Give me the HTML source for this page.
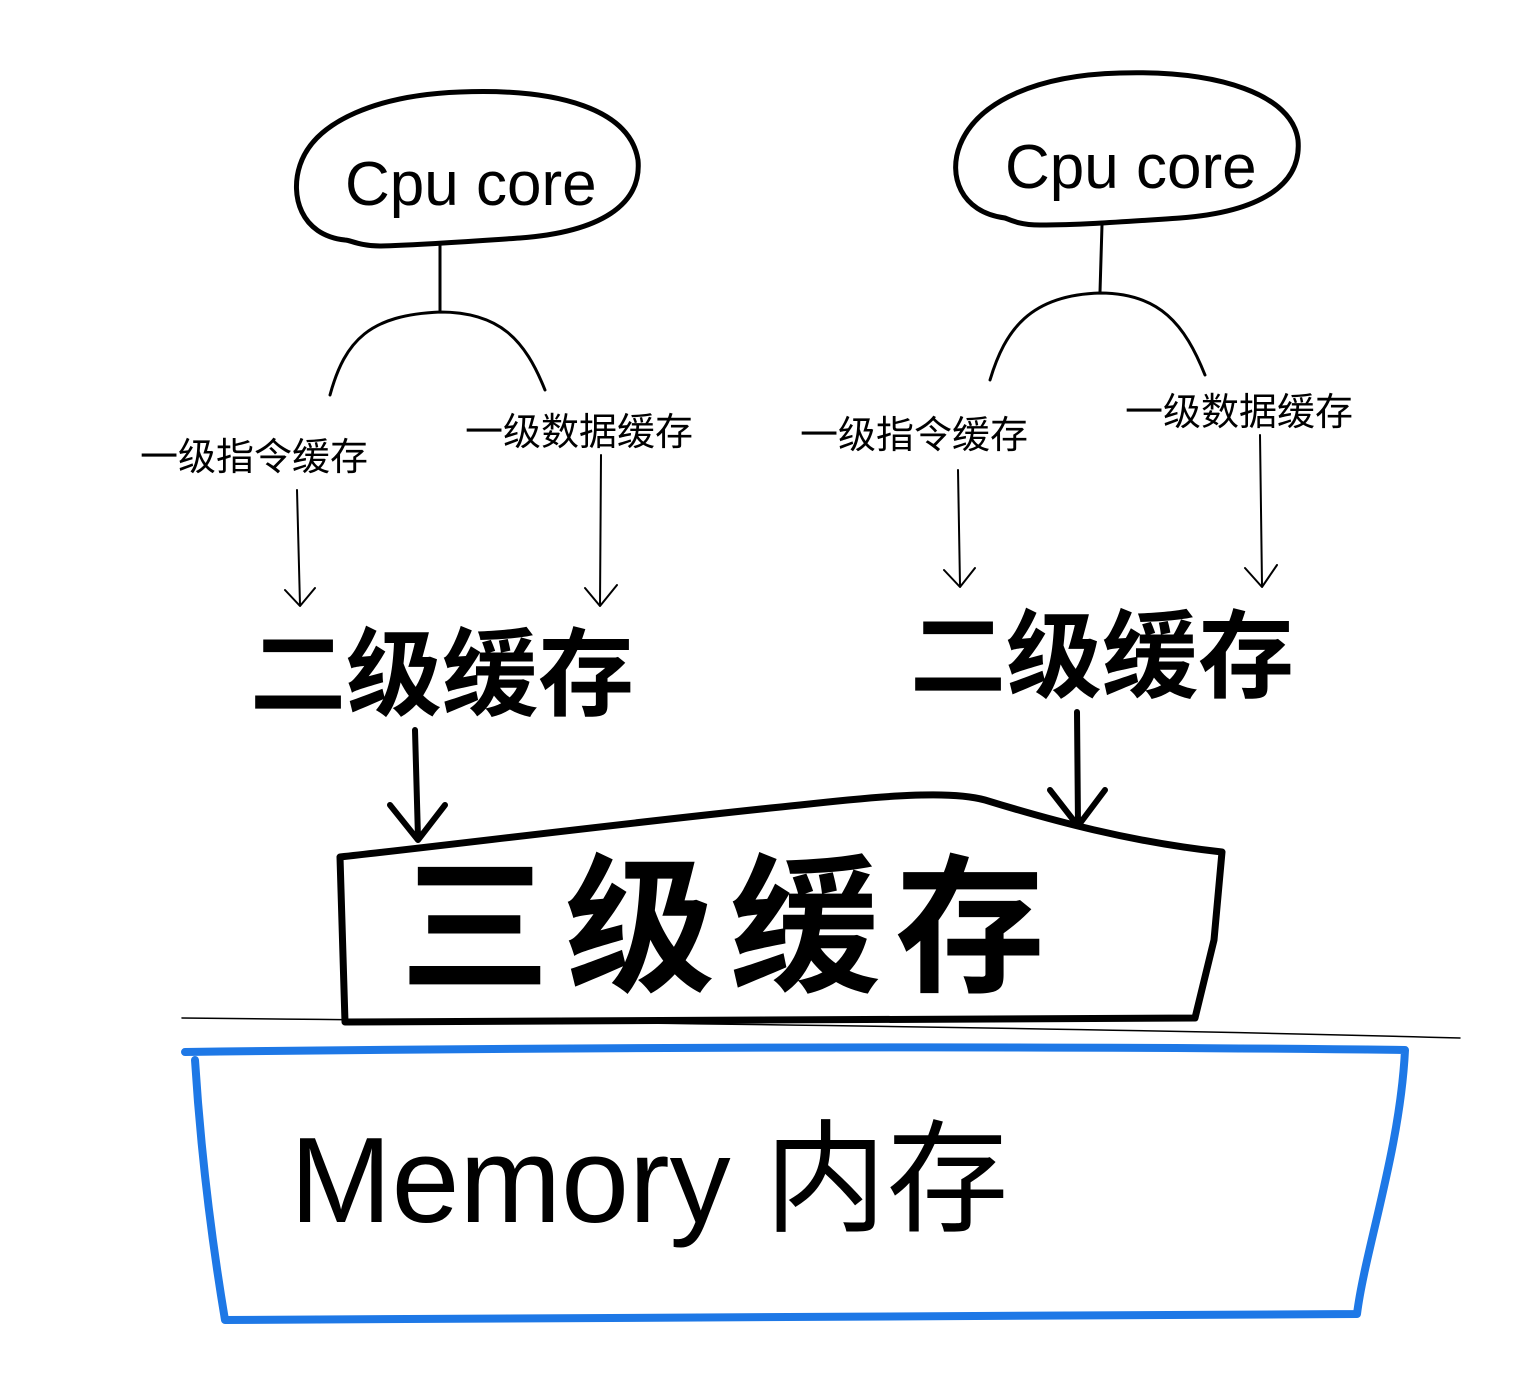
<!DOCTYPE html>
<html><head><meta charset="utf-8"><style>
html,body{margin:0;padding:0;background:#fff;}
svg{display:block}
text{font-family:"Liberation Sans","Noto Sans CJK SC",sans-serif;fill:#000}
</style></head><body>
<svg width="1536" height="1392" viewBox="0 0 1536 1392" xmlns="http://www.w3.org/2000/svg">
<g fill="none" stroke="#000" stroke-linecap="round" stroke-linejoin="round">
<path d="M345,240 C300,235 290,195 300,165 C315,120 380,95 460,92 C560,88 630,110 638,160 C642,205 600,232 520,238 C460,242 420,245 380,246 C360,246 350,240 345,240 Z" stroke-width="5"/>
<path d="M1005,218 C960,212 948,175 960,145 C978,100 1040,75 1120,73 C1220,70 1292,95 1298,140 C1302,185 1260,212 1180,218 C1120,222 1080,225 1040,225 C1020,225 1010,220 1005,218 Z" stroke-width="5"/>
<path d="M440,245 L440,310" stroke-width="3"/>
<path d="M330,395 C345,340 370,315 440,312 C500,312 525,340 545,390" stroke-width="3"/>
<path d="M1102,225 L1100,292" stroke-width="3"/>
<path d="M990,380 C1005,330 1030,295 1100,293 C1160,293 1185,325 1205,375" stroke-width="3"/>
<path d="M297,490 L300,605 M285,590 L300,606 L315,588" stroke-width="2"/>
<path d="M601,455 L600,605 M585,588 L600,606 L617,585" stroke-width="2"/>
<path d="M958,470 L960,585 M944,570 L960,587 L975,568" stroke-width="2"/>
<path d="M1260,435 L1262,585 M1245,568 L1262,587 L1277,565" stroke-width="2"/>
<path d="M415,730 L418,838 M390,805 L418,840 L445,805" stroke-width="6"/>
<path d="M1077,712 L1078,825 M1050,790 L1078,826 L1105,790" stroke-width="6"/>
<path d="M340,857 C450,845 650,820 800,805 C880,796 950,790 985,800 C1050,820 1130,842 1222,852 L1214,940 L1195,1018 L345,1022 L340,857 Z" stroke-width="7"/>
<path d="M182,1018 C600,1022 1100,1028 1460,1038" stroke-width="1.5"/>
<path d="M185,1052 C500,1048 1000,1045 1405,1050 C1400,1150 1365,1250 1357,1314 L225,1320 C210,1230 200,1140 195,1060" stroke="#1e78e6" stroke-width="8"/>
</g>
<text x="345" y="205" font-size="62">Cpu core</text>
<text x="1005" y="188" font-size="62">Cpu core</text>
<text x="140" y="470" font-size="38">一级指令缓存</text>
<text x="465" y="445" font-size="38">一级数据缓存</text>
<text x="800" y="448" font-size="38">一级指令缓存</text>
<text x="1125" y="425" font-size="38">一级数据缓存</text>
<text x="250" y="708" font-size="96" font-weight="600">二级缓存</text>
<text x="910" y="690" font-size="96" font-weight="600">二级缓存</text>
<text x="400" y="980" font-size="150" font-weight="600" letter-spacing="15">三级缓存</text>
<text x="290" y="1222" font-size="122">Memory 内存</text>
</svg>
</body></html>
